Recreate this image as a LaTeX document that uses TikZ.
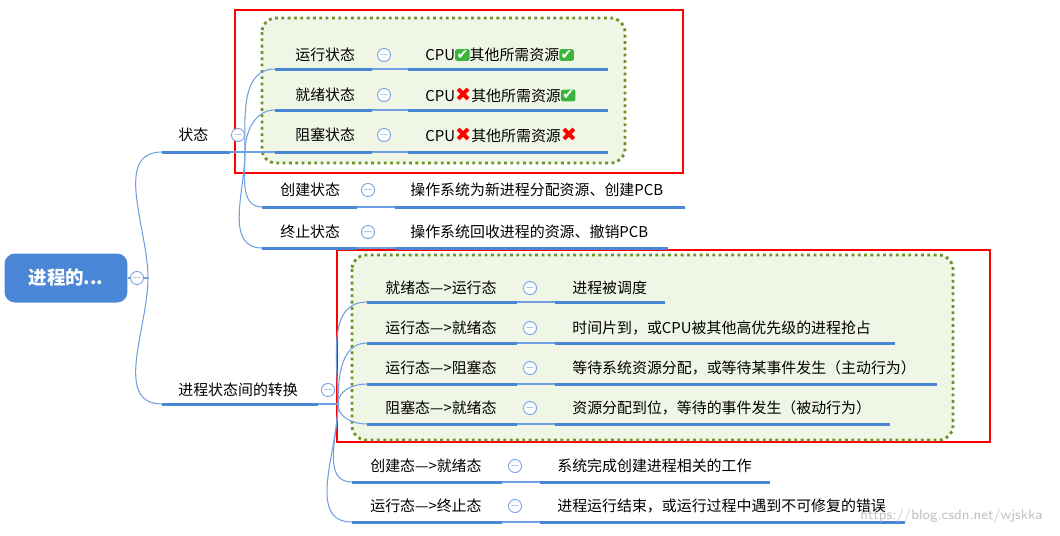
\documentclass[tikz,border=0pt]{standalone}
\usepackage{fontspec}
\setmainfont{Noto Sans CJK SC}
\newfontfamily\dejavu{DejaVu Sans}
\usetikzlibrary{positioning}
\definecolor{ulblue}{RGB}{74,134,214}
\definecolor{lnblue}{RGB}{110,160,225}
\definecolor{boxgreen}{RGB}{240,246,230}
\definecolor{dotgreen}{RGB}{110,145,40}
\definecolor{okgreen}{RGB}{60,180,60}
\newcommand{\okmark}{\tikz[baseline=-0.7ex]\node[fill=okgreen,rounded corners=1.2pt,text=white,inner sep=0.8pt,font=\dejavu\fontsize{8}{8}\selectfont]{✔};}
\newcommand{\nomark}{{\dejavu\fontsize{11}{11}\selectfont\color{red}✖}}
\tikzset{
    lbl/.style={anchor=west,inner sep=0pt,font=\fontsize{8.5}{10}\selectfont},
    ul/.style={ulblue,line width=1.7pt},
    link/.style={lnblue,line width=0.6pt},
    tog/.style={circle,draw=lnblue,fill=white,minimum size=6pt,inner sep=0pt,line width=0.5pt,
        font=\fontsize{6}{6}\selectfont,text=lnblue},
    greenbox/.style={draw=dotgreen,fill=boxgreen,line width=1.6pt,dotted,rounded corners=8pt},
    redbox/.style={draw=red,line width=1pt}
}
\begin{document}
\begin{tikzpicture}[x=0.02cm,y=-0.02cm]
    \useasboundingbox (0,0) rectangle (1060,535);

    % frames
    \draw[redbox] (235,10) rectangle (683,173);
    \draw[greenbox] (262,18) rectangle (625,163);
    \draw[redbox] (337,250) rectangle (990,442);
    \draw[greenbox] (352,255) rectangle (953,440);

    % root
    \node[fill=ulblue,rounded corners=6pt,minimum width=2.46cm,minimum height=0.98cm,
        text=white,font=\fontsize{10.5}{12}\selectfont\bfseries] (root) at (66,278) {进程的...};
    \coordinate (rootend) at (148,278);
    \draw[link] (root.east) -- (rootend);
    \node[tog] at (137,278) {$-$};

    % first level
    \node[lbl] (zt) at (178,135) {状态};
    \coordinate (zta) at (162,152); \coordinate (ztb) at (230,152);
    \node[lbl] (zh) at (178,390) {进程状态间的转换};
    \coordinate (zha) at (162,404); \coordinate (zhb) at (318,404);
    \draw[link] (rootend) to[out=90,in=180] (zta);
    \draw[link] (rootend) to[out=-90,in=180] (zha);
    \draw[ul] (zta) -- (ztb);
    \draw[ul] (zha) -- (zhb);
    \coordinate (ztp) at (245,152);
    \coordinate (zhp) at (338,404);
    \draw[link] (ztb) -- (ztp);
    \draw[link] (zhb) -- (zhp);

    % states
    \foreach \i/\yt/\yu/\xa/\xt/\xb/\xc/\xv/\xd/\xe/\txt/\val in {
        1/55/69/275/295/372/384/408/425/608/运行状态/CPU\okmark 其他所需资源\okmark,
        2/95/110/275/295/372/384/408/425/608/就绪状态/CPU\nomark 其他所需资源\okmark,
        3/135/152/275/295/372/384/408/425/608/阻塞状态/CPU\nomark 其他所需资源\nomark,
        4/190/207/262/280/357/368/395/410/685/创建状态/操作系统为新进程分配资源、创建PCB,
        5/232/248/262/280/357/368/395/410/668/终止状态/操作系统回收进程的资源、撤销PCB} {
        \node[lbl] (s\i) at (\xt,\yt) {\txt};
        \node[lbl] (v\i) at (\xd,\yt) {\val};
        \coordinate (s\i a) at (\xa,\yu); \coordinate (s\i b) at (\xb,\yu);
        \coordinate (v\i a) at (\xv,\yu); \coordinate (v\i b) at (\xe,\yu);
        \draw[link] (s\i b) -- (v\i a);
        \draw[ul] (s\i a) -- (s\i b);
        \draw[ul] (v\i a) -- (v\i b);
        \node[tog] at (\xc,\yt) {$-$};
    }
    \draw[link] (ztp) to[out=90,in=180] (s1a);
    \draw[link] (ztp) to[out=90,in=180] (s2a);
    \draw[link] (ztp) -- (s3a);
    \draw[link] (ztp) to[out=-90,in=180] (s4a);
    \draw[link] (ztp) to[out=-90,in=180] (s5a);
    \node[tog] at (238,135) {$-$};

    % transitions
    \foreach \i/\yt/\yu/\xa/\xt/\xb/\xc/\xv/\xd/\xe/\txt/\val in {
        1/288/302/367/385/517/530/555/572/665/就绪态—>运行态/进程被调度,
        2/328/343/367/385/517/530/555/572/895/运行态—>就绪态/{时间片到，或CPU被其他高优先级的进程抢占},
        3/368/384/367/385/517/530/555/572/937/运行态—>阻塞态/{等待系统资源分配，或等待某事件发生（主动行为）},
        4/408/424/367/385/517/530/555/572/890/阻塞态—>就绪态/{资源分配到位，等待的事件发生（被动行为）},
        5/466/482/352/370/502/515/540/557/770/创建态—>就绪态/系统完成创建进程相关的工作,
        6/506/522/352/370/502/515/540/557/905/运行态—>终止态/{进程运行结束，或运行过程中遇到不可修复的错误}} {
        \node[lbl] (t\i) at (\xt,\yt) {\txt};
        \node[lbl] (w\i) at (\xd,\yt) {\val};
        \coordinate (t\i a) at (\xa,\yu); \coordinate (t\i b) at (\xb,\yu);
        \coordinate (w\i a) at (\xv,\yu); \coordinate (w\i b) at (\xe,\yu);
        \draw[link] (t\i b) -- (w\i a);
        \draw[ul] (t\i a) -- (t\i b);
        \draw[ul] (w\i a) -- (w\i b);
        \node[tog] at (\xc,\yt) {$-$};
    }
    \foreach \i in {1,2,3} \draw[link] (zhp) to[out=90,in=180] (t\i a);
    \foreach \i in {4,5,6} \draw[link] (zhp) to[out=-90,in=180] (t\i a);
    \node[tog] at (328,390) {$-$};

    \node[lbl,text=black!25,font=\sffamily\fontsize{8}{10}\selectfont] (mark) at (860,516) {https://blog.csdn.net/wjskka};
\end{tikzpicture}
\end{document}
